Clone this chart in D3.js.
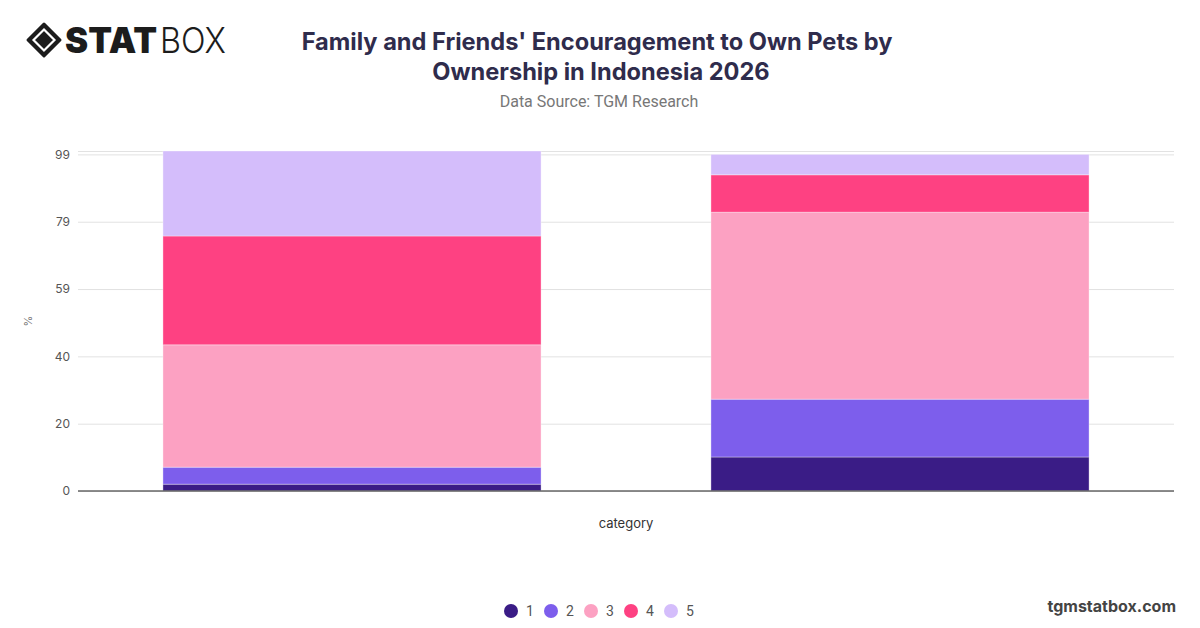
<!DOCTYPE html>
<html>
<head>
<meta charset="utf-8">
<script src="https://cdn.jsdelivr.net/npm/d3@7"></script>
<style>
  body { margin: 0; background: #fff; }
  svg { display: block; font-family: Inter, "Noto Sans", sans-serif; }
</style>
</head>
<body>
<svg id="chart"></svg>
<script>
"use strict";
// chart data
var categories = ["Pet owners", "Non-owners"];
var seriesNames = ["1", "2", "3", "4", "5"];
var series1 = [2, 10];
var series2 = [5, 17];
var series3 = [36, 55];
var series4 = [32, 11];
var series5 = [25, 6];
var yTicks = [0, 19.8, 39.6, 59.4, 79.2, 99];
var colors = ["#3a1c86", "#7d5eec", "#fca1c2", "#fe4182", "#d4bdfb"];

var svgWidth = 1200, svgHeight = 628;
var margin = {left: 78, right: 26, top: 151, bottom: 137};
var svg = d3.select("#chart").attr("width", svgWidth).attr("height", svgHeight);

var allSeries = [series1, series2, series3, series4, series5];
var table = categories.map(function(c, i) {
  var row = {category: c};
  seriesNames.forEach(function(s, j) { row[s] = allSeries[j][i]; });
  return row;
});
var stacked = d3.stack().keys(seriesNames)(table);

var x = d3.scaleBand().domain(categories)
  .range([margin.left, svgWidth - margin.right])
  .paddingInner(0.31).paddingOuter(0.155);
var y = d3.scaleLinear().domain([0, 100])
  .range([svgHeight - margin.bottom, margin.top]);
var color = d3.scaleOrdinal().domain(seriesNames).range(colors);

// gridlines
var grid = svg.append("g");
grid.selectAll("line").data(yTicks.concat([100])).enter().append("line")
  .attr("x1", margin.left).attr("x2", svgWidth - margin.right)
  .attr("y1", function(d) { return y(d) + 0.5; })
  .attr("y2", function(d) { return y(d) + 0.5; })
  .attr("stroke", "#e2e2e2").attr("stroke-width", 1);

// y axis labels
var yAxis = svg.append("g")
  .attr("transform", "translate(" + (margin.left - 8) + ",0)")
  .call(d3.axisLeft(y).tickValues(yTicks).tickFormat(d3.format(".0f")).tickSize(0).tickPadding(0));
yAxis.select(".domain").remove();
yAxis.selectAll("text").attr("font-size", 12).attr("fill", "#555")
  .attr("font-family", "Inter, sans-serif");

// bars
svg.append("g").selectAll("g").data(stacked).enter().append("g")
  .attr("fill", function(d) { return color(d.key); })
  .selectAll("rect").data(function(d) { return d; }).enter().append("rect")
  .attr("x", function(d) { return x(d.data.category); })
  .attr("width", x.bandwidth())
  .attr("y", function(d) { return y(d[1]); })
  .attr("height", function(d) { return y(d[0]) - y(d[1]); })
  .attr("stroke", "rgba(255,255,255,0.35)").attr("stroke-width", 1);

// baseline
svg.append("line")
  .attr("x1", margin.left).attr("x2", svgWidth - margin.right)
  .attr("y1", y(0)).attr("y2", y(0))
  .attr("stroke", "#666").attr("stroke-width", 1.5);

// axis titles
svg.append("text")
  .attr("x", (margin.left + svgWidth - margin.right) / 2).attr("y", 528)
  .attr("text-anchor", "middle").attr("font-size", 13).attr("fill", "#333")
  .text("category");
svg.append("text")
  .attr("transform", "translate(32," + (y(50)) + ") rotate(-90)")
  .attr("text-anchor", "middle").attr("font-size", 11).attr("fill", "#777")
  .text("%");

// title
var title = svg.append("text").attr("text-anchor", "middle")
  .attr("font-size", 23.6).attr("font-weight", 700).attr("fill", "#2f2c4c");
title.append("tspan").attr("x", 597).attr("y", 50)
  .text("Family and Friends' Encouragement to Own Pets by");
title.append("tspan").attr("x", 601).attr("y", 80)
  .text("Ownership in Indonesia 2026");
svg.append("text").attr("x", 599).attr("y", 107).attr("text-anchor", "middle")
  .attr("font-size", 16).attr("fill", "#777").attr("font-family", "Roboto, sans-serif")
  .text("Data Source: TGM Research");

// legend
var legend = svg.append("g").selectAll("g").data(seriesNames).enter().append("g")
  .attr("transform", function(d, i) { return "translate(" + (511 + i * 40) + ",611)"; });
legend.append("circle").attr("r", 7).attr("fill", function(d) { return color(d); });
legend.append("text").attr("x", 15).attr("y", 5).attr("font-size", 14)
  .attr("font-family", "Roboto, sans-serif")
  .attr("fill", "#555").text(function(d) { return d; });

// footer
svg.append("text").attr("x", 1176).attr("y", 612).attr("text-anchor", "end")
  .attr("font-size", 16).attr("font-weight", 700).attr("fill", "#444")
  .text("tgmstatbox.com");

// logo
var logo = svg.append("g");
logo.append("path").attr("d", "M44,24 L60,40 L44,56 L28,40 Z")
  .attr("fill", "#1c1c1c").attr("stroke", "#1c1c1c").attr("stroke-width", 3).attr("stroke-linejoin", "round");
logo.append("path").attr("d", "M44,29.5 L54.5,40 L44,50.5 L33.5,40 Z")
  .attr("fill", "none").attr("stroke", "#fff").attr("stroke-width", 2.2);
logo.append("path").attr("d", "M44,33 L51,40 L44,47 L37,40 Z").attr("fill", "#1c1c1c");
logo.append("text").attr("x", 65).attr("y", 53).attr("font-size", 35)
  .attr("font-weight", 900).attr("fill", "#1c1c1c").attr("textLength", 92)
  .attr("lengthAdjust", "spacingAndGlyphs").text("STAT");
logo.append("text").attr("x", 160).attr("y", 53).attr("font-size", 35)
  .attr("font-weight", 300).attr("fill", "#1c1c1c").attr("textLength", 66)
  .attr("lengthAdjust", "spacingAndGlyphs").text("BOX");
</script>
</body>
</html>
